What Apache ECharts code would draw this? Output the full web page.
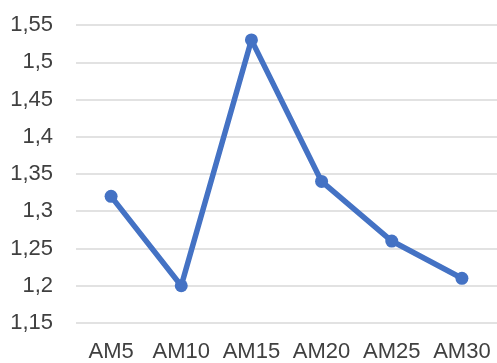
<!DOCTYPE html>
<html>
<head>
<meta charset="utf-8">
<script src="https://cdn.jsdelivr.net/npm/echarts@6/dist/echarts.min.js"></script>
<style>
  html, body { margin: 0; padding: 0; background: #ffffff; }
  #chart { width: 497px; height: 363px; }
</style>
</head>
<body>
<div id="chart"></div>
<script>
// Categories and measured values
const categories = ['AM5', 'AM10', 'AM15', 'AM20', 'AM25', 'AM30'];
const values = [1.32, 1.20, 1.53, 1.34, 1.26, 1.21];

// Value axis range
const yMin = 1.15;
const yMax = 1.55;
const yStep = 0.05;

const chart = echarts.init(document.getElementById('chart'), null, { renderer: 'canvas' });

const fontFamily = 'Liberation Sans, Arial, sans-serif';

chart.setOption({
  animation: false,
  backgroundColor: '#ffffff',
  grid: { left: 76, right: 0, top: 25, bottom: 40, containLabel: false },
  xAxis: {
    type: 'category',
    data: categories,
    boundaryGap: true,
    axisLine: { show: false },
    axisTick: { show: false },
    axisLabel: {
      color: '#404040',
      fontFamily: fontFamily,
      fontSize: 22,
      margin: 18,
      interval: 0
    },
    splitLine: { show: false }
  },
  yAxis: {
    type: 'value',
    min: yMin,
    max: yMax,
    interval: yStep,
    axisLine: { show: false },
    axisTick: { show: false },
    axisLabel: {
      color: '#404040',
      fontFamily: fontFamily,
      fontSize: 22,
      margin: 23,
      formatter: v => String(Math.round(v * 100) / 100).replace('.', ',')
    },
    splitLine: { show: true, lineStyle: { color: '#d9d9d9', width: 1.5 } }
  },
  series: [{
    type: 'line',
    data: values,
    symbol: 'circle',
    symbolSize: 13,
    lineStyle: { color: '#4472c4', width: 5.5 },
    itemStyle: { color: '#4472c4' }
  }]
});
</script>
</body>
</html>
